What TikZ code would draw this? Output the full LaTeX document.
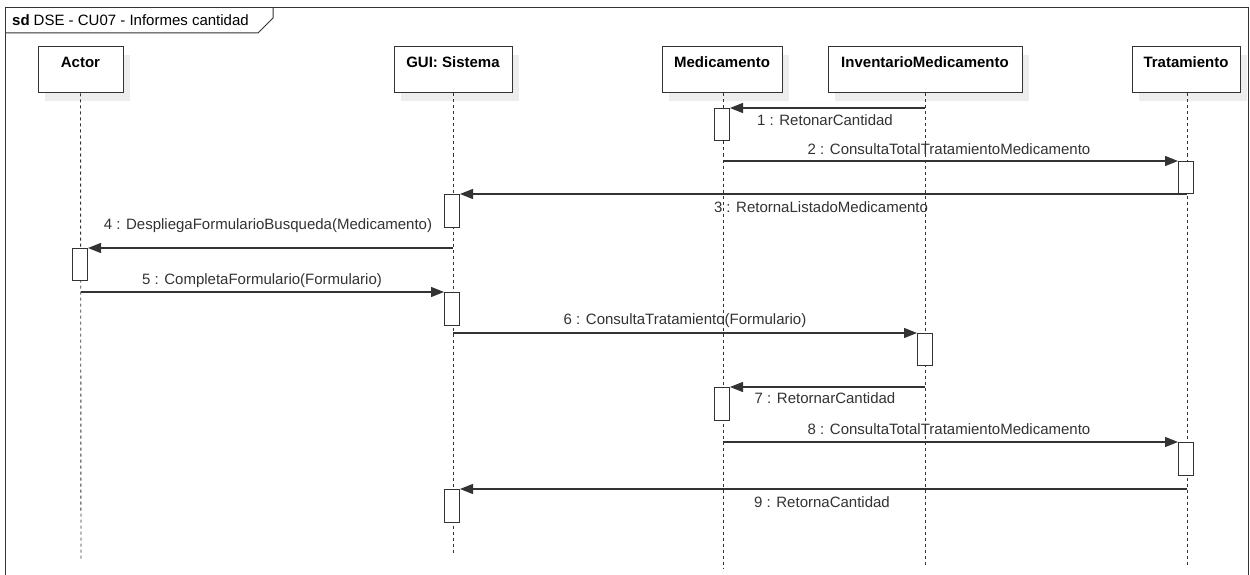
\documentclass[tikz,border=0pt]{standalone}
\usepackage{fontspec}
\setmainfont{Liberation Sans}
\usetikzlibrary{arrows.meta,shadows}
\definecolor{lineC}{HTML}{333333}
\definecolor{shadowC}{HTML}{EDEDED}
\tikzset{
  head/.style={draw=lineC,line width=1pt,fill=white,minimum height=46pt,
    drop shadow={shadow xshift=7pt,shadow yshift=-8pt,fill=shadowC,opacity=1}},
  life/.style={lineC,dash pattern=on 3pt off 3pt,line width=0.9pt},
  act/.style={draw=lineC,line width=1pt,fill=white,minimum width=15pt,inner sep=0pt},
  msg/.style={lineC,line width=1.2pt,-{Triangle[length=13pt,width=10pt]}},
  lbl/.style={text=black!80,inner sep=0pt}
}
\begin{document}
\begin{tikzpicture}[x=1pt,y=-1pt,every node/.style={font=\fontsize{15}{18}\selectfont}]
  \useasboundingbox (0,0) rectangle (1250,575);
  \fill[white] (0,0) rectangle (1250,575);
  % frame
  \draw[lineC,line width=1pt] (5,576)--(5,8)--(1248,8)--(1248,576);
  \draw[lineC,line width=1pt] (5,33)--(258,33)--(273,18)--(273,8);
  \node[anchor=west,inner sep=0pt] (title) at (12,20) {\textbf{sd}\hspace{4pt}DSE - CU07 - Informes cantidad};
  % heads
  \node[head,minimum width=85pt,label={[anchor=north,yshift=-7pt,font=\fontsize{15}{18}\selectfont\bfseries]north:Actor}] (actor) at (80.5,70) {};
  \node[head,minimum width=118pt,label={[anchor=north,yshift=-7pt,font=\fontsize{15}{18}\selectfont\bfseries]north:GUI: Sistema}] (gui) at (453,70) {};
  \node[head,minimum width=120pt,label={[anchor=north,yshift=-7pt,font=\fontsize{15}{18}\selectfont\bfseries]north:Medicamento}] (med) at (722,70) {};
  \node[head,minimum width=194pt,label={[anchor=north,yshift=-7pt,font=\fontsize{15}{18}\selectfont\bfseries]north:InventarioMedicamento}] (inv) at (925,70) {};
  \node[head,minimum width=108pt,label={[anchor=north,yshift=-7pt,font=\fontsize{15}{18}\selectfont\bfseries]north:Tratamiento}] (trat) at (1186,70) {};
  % lifeline ends
  \coordinate (actorE) at (81,561);
  \coordinate (guiE) at (453,553);
  \coordinate (medE) at (723,568);
  \coordinate (invE) at (925,566);
  \coordinate (tratE) at (1187,566);
  \draw[life] (actor.south)--(actorE);
  \draw[life] (gui.south)--(guiE);
  \draw[life] (med.south-|medE)--(medE);
  \draw[life] (inv.south)--(invE);
  \draw[life] (trat.south-|tratE)--(tratE);
  % activations
  \node[act,minimum height=32pt,anchor=north] (m1) at (722,108) {};
  \node[act,minimum height=32pt,anchor=north] (t1) at (1186,161) {};
  \node[act,minimum height=33pt,anchor=north] (g1) at (452,194) {};
  \node[act,minimum height=32pt,anchor=north] (a1) at (80,248) {};
  \node[act,minimum height=33pt,anchor=north] (g2) at (452,292) {};
  \node[act,minimum height=32pt,anchor=north] (i1) at (925,333) {};
  \node[act,minimum height=33pt,anchor=north] (m2) at (722,387) {};
  \node[act,minimum height=33pt,anchor=north] (t2) at (1186,442) {};
  \node[act,minimum height=33pt,anchor=north] (g3) at (452,489) {};
  % messages
  \draw[msg] (m1.north east-|invE)--(m1.north east);
  \node[lbl] (l1) at (825,120) {1 : RetonarCantidad};
  \draw[msg] (t1.north west-|medE)--(t1.north west);
  \node[lbl] (l2) at (949,149) {2 : ConsultaTotalTratamientoMedicamento};
  \draw[msg] (g1.north east-|tratE)--(g1.north east);
  \node[lbl] (l3) at (821,207) {3 : RetornaListadoMedicamento};
  \draw[msg] (a1.north east-|guiE)--(a1.north east);
  \node[lbl] (l4) at (268,226) {4 : DespliegaFormularioBusqueda(Medicamento)};
  \draw[msg] (g2.north west-|actorE)--(g2.north west);
  \node[lbl] (l5) at (262,281) {5 : CompletaFormulario(Formulario)};
  \draw[msg] (i1.north west-|guiE)--(i1.north west);
  \node[lbl] (l6) at (685,321) {6 : ConsultaTratamiento(Formulario)};
  \draw[msg] (m2.north east-|invE)--(m2.north east);
  \node[lbl] (l7) at (825,398) {7 : RetornarCantidad};
  \draw[msg] (t2.north west-|medE)--(t2.north west);
  \node[lbl] (l8) at (949,429) {8 : ConsultaTotalTratamientoMedicamento};
  \draw[msg] (g3.north east-|tratE)--(g3.north east);
  \node[lbl] (l9) at (822,502) {9 : RetornaCantidad};
\end{tikzpicture}
\end{document}
